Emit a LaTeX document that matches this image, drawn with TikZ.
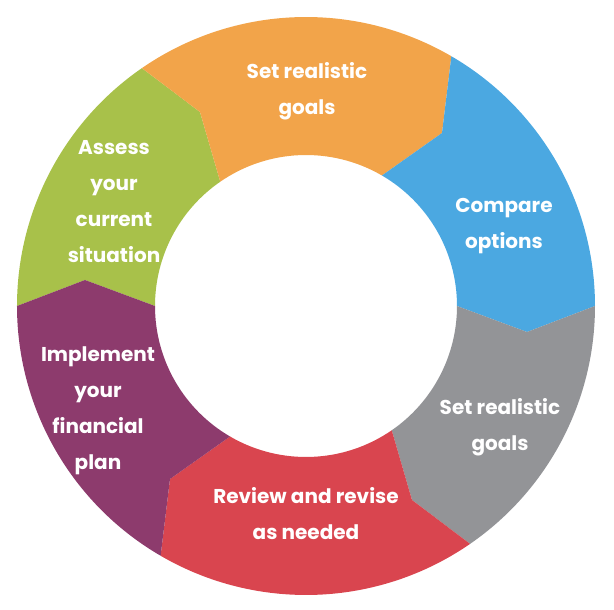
\documentclass[tikz,border=0pt]{standalone}
\usepackage{fontspec}
\setmainfont{Poppins}
\definecolor{cOrange}{HTML}{F2A44A}
\definecolor{cBlue}{HTML}{4BA8E1}
\definecolor{cGray}{HTML}{939497}
\definecolor{cRed}{HTML}{D9454F}
\definecolor{cPurple}{HTML}{8D3B6D}
\definecolor{cGreen}{HTML}{A8C14A}
\begin{document}
\begin{tikzpicture}[x=1pt,y=1pt,
  lbl/.style={text=white, font=\fontsize{20}{36}\selectfont\bfseries, align=center, inner sep=0pt}]
\useasboundingbox (-306,-304) rectangle (308,306);
\def\RO{289}\def\RI{151}
% boundary angles: 180, 124.6, 59.8, 0, -55.4, -120.2
% tips
\coordinate (t1) at (-106,194);
\coordinate (t2) at (136,173);
\coordinate (t3) at (221,-26);
\coordinate (t4) at (106,-194);
\coordinate (t5) at (-136,-173);
\coordinate (t6) at (-221,26);
% green: 180 -> 124.6
\fill[cGreen] (180:\RO) arc[start angle=180, end angle=124.6, radius=\RO] -- (t1) -- (124.6:\RI) arc[start angle=124.6, end angle=180, radius=\RI] -- (t6) -- cycle;
% orange: 124.6 -> 59.8
\fill[cOrange] (124.6:\RO) arc[start angle=124.6, end angle=59.8, radius=\RO] -- (t2) -- (59.8:\RI) arc[start angle=59.8, end angle=124.6, radius=\RI] -- (t1) -- cycle;
% blue: 59.8 -> 0
\fill[cBlue] (59.8:\RO) arc[start angle=59.8, end angle=0, radius=\RO] -- (t3) -- (0:\RI) arc[start angle=0, end angle=59.8, radius=\RI] -- (t2) -- cycle;
% gray: 0 -> -55.4
\fill[cGray] (0:\RO) arc[start angle=0, end angle=-55.4, radius=\RO] -- (t4) -- (-55.4:\RI) arc[start angle=-55.4, end angle=0, radius=\RI] -- (t3) -- cycle;
% red: -55.4 -> -120.2
\fill[cRed] (-55.4:\RO) arc[start angle=-55.4, end angle=-120.2, radius=\RO] -- (t5) -- (-120.2:\RI) arc[start angle=-120.2, end angle=-55.4, radius=\RI] -- (t4) -- cycle;
% purple: -120.2 -> -180
\fill[cPurple] (-120.2:\RO) arc[start angle=-120.2, end angle=-180, radius=\RO] -- (t6) -- (-180:\RI) arc[start angle=-180, end angle=-120.2, radius=\RI] -- (t5) -- cycle;
% labels
\node[lbl] (lOrange) at (1,214.5) {Set realistic\\goals};
\node[lbl] (lGreen) at (-192,104) {Assess\\your\\current\\situation};
\node[lbl] (lBlue) at (198,80) {Compare\\options};
\node[lbl] (lPurple) at (-208,-105) {Implement\\your\\financial\\plan};
\node[lbl] (lRed) at (0,-208) {Review and revise\\as needed};
\node[lbl] (lGray) at (194,-121) {Set realistic\\goals};
\end{tikzpicture}
\end{document}
